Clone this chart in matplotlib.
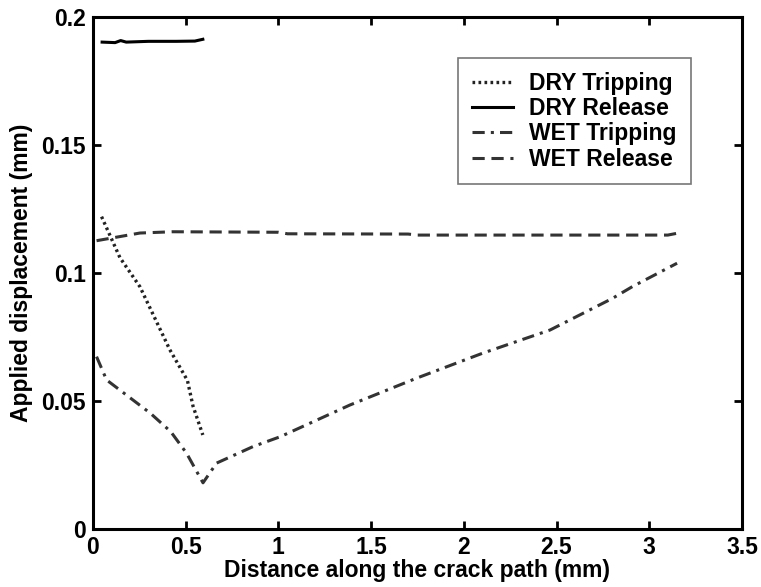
import numpy as np
import matplotlib.pyplot as plt

plt.rcParams['font.family'] = ['Liberation Sans', 'DejaVu Sans']
plt.rcParams['font.weight'] = 'bold'

# DRY tripping (dotted)
dry_trip_x = [0.047, 0.146, 0.254, 0.415, 0.51, 0.54, 0.593]
dry_trip_y = [0.122, 0.106, 0.0946, 0.070, 0.058, 0.048, 0.0367]

# DRY release (solid)
dry_rel_x = [0.05, 0.12, 0.15, 0.18, 0.30, 0.45, 0.55, 0.593]
dry_rel_y = [0.1902, 0.1900, 0.1908, 0.1902, 0.1905, 0.1905, 0.1906, 0.1913]

# WET tripping (dash-dot)
wet_trip_x = [0.02, 0.074, 0.31, 0.42, 0.505, 0.594, 0.667, 0.865, 1.01,
              1.386, 1.746, 2.10, 2.465, 2.80, 2.91, 3.15]
wet_trip_y = [0.0673, 0.0582, 0.0452, 0.038, 0.0296, 0.018, 0.0257, 0.0322, 0.036,
              0.0484, 0.0589, 0.0686, 0.0777, 0.090, 0.0947, 0.1038]

# WET release (dashed)
wet_rel_x = [0.02, 0.254, 0.43, 1.0, 1.05, 1.7, 1.75, 3.1, 3.15]
wet_rel_y = [0.1126, 0.1156, 0.1161, 0.1159, 0.1153, 0.1152, 0.1148, 0.1148, 0.1155]

fs = 16.5

fig = plt.figure(figsize=(7.61, 5.87), dpi=100)
ax = fig.add_axes([0.122, 0.099, 0.853, 0.872])

ax.plot(dry_trip_x, dry_trip_y, linestyle=(0, (0.8, 1.0)), color='#222222', lw=2.4, label='DRY Tripping')
ax.plot(dry_rel_x, dry_rel_y, '-', color='black', lw=2.2, label='DRY Release')
ax.plot(wet_trip_x, wet_trip_y, linestyle=(0, (4, 2, 1, 2)), color='#333333', lw=2.2, label='WET Tripping')
ax.plot(wet_rel_x, wet_rel_y, linestyle=(0, (4, 2.2)), color='#333333', lw=2.2, label='WET Release')

ax.set_xlim(0, 3.5)
ax.set_ylim(0, 0.2)
ax.set_xticks(np.arange(0, 3.51, 0.5))
ax.set_xticklabels(['0', '0.5', '1', '1.5', '2', '2.5', '3', '3.5'])
ax.set_yticks([0, 0.05, 0.1, 0.15, 0.2])
ax.set_yticklabels(['0', '0.05', '0.1', '0.15', '0.2'])
ax.tick_params(direction='in', length=6, width=2, labelsize=fs, top=True, right=True, pad=5)
for s in ax.spines.values():
    s.set_linewidth(2.2)

ax.set_xlabel('Distance along the crack path (mm)', fontsize=fs, fontweight='bold', labelpad=0)
ax.set_ylabel('Applied displacement (mm)', fontsize=fs, fontweight='bold', labelpad=6)

leg = ax.legend(loc='upper right', bbox_to_anchor=(0.921, 0.92), borderaxespad=0, fontsize=fs,
                handlelength=1.8, frameon=True, fancybox=False, edgecolor='#555555', borderpad=0.6,
                labelspacing=0.1, handletextpad=0.7)
leg.get_frame().set_linewidth(1.2)

fig.savefig('out.png', dpi=100)
